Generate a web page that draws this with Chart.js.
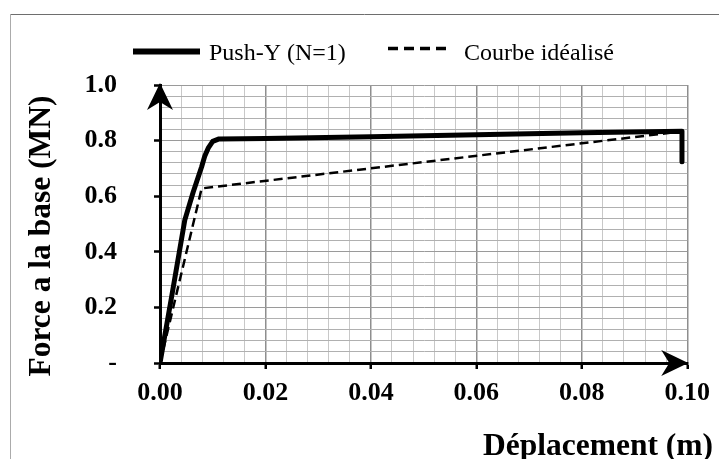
<!DOCTYPE html>
<html>
<head>
<meta charset="utf-8">
<script src="https://cdn.jsdelivr.net/npm/chart.js@4/dist/chart.umd.min.js"></script>
<style>
  html, body { margin: 0; padding: 0; background: #fff; }
  #wrap { width: 719px; height: 459px; position: relative; }
</style>
</head>
<body>
<div id="wrap"><canvas id="c"></canvas></div>
<script>
// Pushover curve (displacement in m, base force in MN)
const pushX = [0, 0.0022, 0.0047, 0.0063, 0.0079, 0.0085, 0.0092, 0.0100, 0.0112, 0.0200, 0.0400, 0.0600, 0.0800, 0.0990, 0.0990];
const pushY = [0, 0.238, 0.514, 0.615, 0.706, 0.745, 0.775, 0.797, 0.806, 0.808, 0.814, 0.821, 0.828, 0.834, 0.724];

// Bilinear idealised curve
const idealX = [0, 0.0079, 0.0990];
const idealY = [0, 0.628, 0.833];

// Axis tick labels (major ticks only)
const xTickLabels = ['0.00', '0.02', '0.04', '0.06', '0.08', '0.10'];
const yTickLabels = ['-', '0.2', '0.4', '0.6', '0.8', '1.0'];

const seriesNames = ['Push-Y (N=1)', 'Courbe idéalisé'];
const xTitle = 'Déplacement (m)';
const yTitle = 'Force a la base (MN)';

const SERIF = "'Liberation Serif', 'Times New Roman', serif";

const xMajor = 0.02, yMajor = 0.2;
const isMajor = (v, step) => Math.abs(v / step - Math.round(v / step)) < 1e-6;

const toPoints = (xs, ys) => xs.map((x, i) => ({ x, y: ys[i] }));

// Arrowhead with a notched back, pointing along (dx, dy)
function arrowHead(ctx, tx, ty, dx, dy, len, half, notch) {
  const px = -dy, py = dx;
  const bx = tx - dx * len, by = ty - dy * len;
  ctx.beginPath();
  ctx.moveTo(tx, ty);
  ctx.lineTo(bx + px * half, by + py * half);
  ctx.lineTo(tx - dx * (len - notch), ty - dy * (len - notch));
  ctx.lineTo(bx - px * half, by - py * half);
  ctx.closePath();
  ctx.fill();
}

const decorations = {
  id: 'decorations',
  beforeDraw(chart) {
    const { ctx, width, height } = chart;
    ctx.save();
    ctx.fillStyle = '#fff';
    ctx.fillRect(0, 0, width, height);
    // outer frame
    ctx.lineWidth = 1;
    ctx.strokeStyle = '#6e6e6e';
    ctx.beginPath(); ctx.moveTo(10, 14.5); ctx.lineTo(width, 14.5); ctx.stroke();
    ctx.strokeStyle = '#ababab';
    ctx.beginPath(); ctx.moveTo(10.5, 14); ctx.lineTo(10.5, height); ctx.stroke();
    ctx.restore();
  },
  afterDraw(chart) {
    const { ctx } = chart;
    const xs = chart.scales.x, ys = chart.scales.y;
    const x0 = xs.getPixelForValue(0), xEnd = xs.getPixelForValue(0.1);
    const y0 = ys.getPixelForValue(0), yEnd = ys.getPixelForValue(1);
    ctx.save();
    ctx.fillStyle = '#000';
    arrowHead(ctx, x0, yEnd - 2, 0, -1, 27, 13, 8);
    arrowHead(ctx, xEnd + 1, y0, 1, 0, 27, 13, 8);

    // legend
    const ds = chart.data.datasets;
    ctx.font = '24px ' + SERIF;
    ctx.textBaseline = 'alphabetic';
    ctx.textAlign = 'left';
    ctx.lineCap = 'butt';

    ctx.strokeStyle = ds[0].borderColor;
    ctx.lineWidth = 6;
    ctx.setLineDash([]);
    ctx.beginPath(); ctx.moveTo(133, 51.5); ctx.lineTo(200, 51.5); ctx.stroke();
    ctx.fillText(ds[0].label, 209, 60);

    ctx.strokeStyle = ds[1].borderColor;
    ctx.lineWidth = 3.5;
    ctx.setLineDash([10, 6]);
    ctx.beginPath(); ctx.moveTo(388, 48.5); ctx.lineTo(451, 48.5); ctx.stroke();
    ctx.setLineDash([]);
    ctx.fillText(ds[1].label, 464, 60);

    // axis titles
    ctx.font = 'bold 31.5px ' + SERIF;
    ctx.textAlign = 'right';
    ctx.fillText(xTitle, 713, 455);

    ctx.translate(50, 236);
    ctx.rotate(-Math.PI / 2);
    ctx.textAlign = 'center';
    ctx.fillText(yTitle, 0, 0);
    ctx.restore();
  }
};

const tickFont = { family: SERIF, size: 26, weight: 'bold' };

new Chart(document.getElementById('c'), {
  type: 'line',
  data: {
    datasets: [
      {
        label: seriesNames[0],
        data: toPoints(pushX, pushY),
        borderColor: '#000',
        borderWidth: 5,
        borderJoinStyle: 'round',
        borderCapStyle: 'butt',
        pointRadius: 0,
        tension: 0,
        fill: false
      },
      {
        label: seriesNames[1],
        data: toPoints(idealX, idealY),
        borderColor: '#000',
        borderWidth: 2.5,
        borderDash: [9, 5],
        pointRadius: 0,
        tension: 0,
        fill: false
      }
    ]
  },
  options: {
    responsive: true,
    maintainAspectRatio: false,
    animation: false,
    events: [],
    layout: { padding: { top: 85, right: 31, bottom: 0, left: 0 } },
    plugins: {
      legend: { display: false },
      tooltip: { enabled: false },
      title: { display: false }
    },
    scales: {
      x: {
        type: 'linear',
        min: 0,
        max: 0.1,
        afterFit: s => { s.height = 96; },
        border: { display: true, color: '#000', width: 3 },
        grid: {
          color: c => (c.tick && isMajor(c.tick.value, xMajor)) ? '#8e8e8e' : '#c8c8c8',
          lineWidth: c => (c.tick && isMajor(c.tick.value, xMajor)) ? 1.5 : 1,
          tickColor: c => (c.tick && isMajor(c.tick.value, xMajor)) ? '#000' : 'rgba(0,0,0,0)',
          tickLength: 6,
          tickWidth: 2.5
        },
        ticks: {
          stepSize: 0.004,
          autoSkip: false,
          maxRotation: 0,
          minRotation: 0,
          padding: 9,
          color: '#000',
          font: tickFont,
          callback: v => isMajor(v, xMajor) ? xTickLabels[Math.round(v / xMajor)] : ''
        }
      },
      y: {
        type: 'linear',
        min: 0,
        max: 1,
        afterFit: s => { s.width = 160; },
        border: { display: true, color: '#000', width: 3 },
        grid: {
          color: c => (c.tick && isMajor(c.tick.value, yMajor)) ? '#9a9a9a' : '#b0b0b0',
          lineWidth: 1,
          tickColor: c => (c.tick && isMajor(c.tick.value, yMajor)) ? '#000' : 'rgba(0,0,0,0)',
          tickLength: 6,
          tickWidth: 2.5
        },
        ticks: {
          stepSize: 0.04,
          autoSkip: false,
          padding: 37,
          color: '#000',
          font: tickFont,
          callback: v => isMajor(v, yMajor) ? yTickLabels[Math.round(v / yMajor)] : ''
        }
      }
    }
  },
  plugins: [decorations]
});
</script>
</body>
</html>
